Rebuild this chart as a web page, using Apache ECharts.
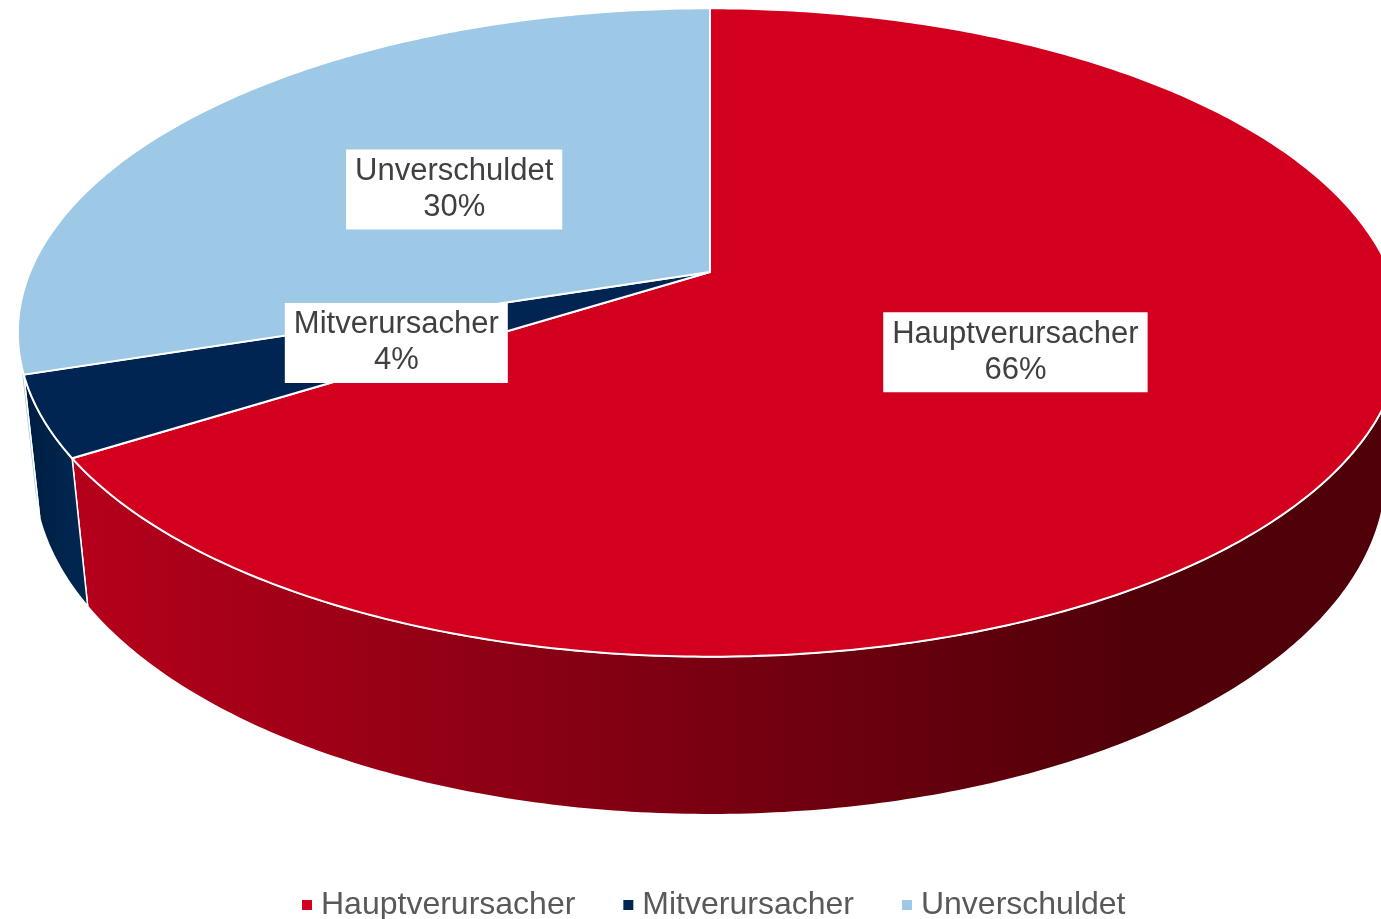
<!DOCTYPE html>
<html>
<head>
<meta charset="utf-8">
<script src="https://cdn.jsdelivr.net/npm/echarts@6/dist/echarts.min.js"></script>
<style>
html, body { margin: 0; padding: 0; background: #fff; }
#main { width: 1381px; height: 919px; }
</style>
</head>
<body>
<div id="main"></div>
<script>
var categories = ['Hauptverursacher', 'Mitverursacher', 'Unverschuldet'];
var shares = [66, 4, 30];
var topColors = ['#d2001e', '#002553', '#9dc9e6'];
var wallColors = [['#b4001b', '#4f0009'], ['#00264f', '#001d42'], ['#8dbfdd', '#7fb0cf']];

// camera for the tilted disk (radius 1)
var cx = 710, cy = 272, focal = 3236, dist = 4.759, tilt = 27.4 * Math.PI / 180, thick = 0.2332;

var total = 0;
for (var i = 0; i < shares.length; i++) total += shares[i];

function project(theta, r, down) {
  var x = r * Math.sin(theta), z = r * Math.cos(theta);
  var up = z * Math.sin(tilt) - down * Math.cos(tilt);
  var d = dist + z * Math.cos(tilt) + down * Math.sin(tilt);
  return [cx + focal * x / d, cy - focal * up / d];
}

// walls facing the viewer
var phi = Math.acos(1 / (dist * Math.cos(tilt)));
var frontLo = Math.PI - phi, frontHi = Math.PI + phi;

function renderSlice(params, api) {
  var idx = params.seriesIndex;
  var before = 0;
  for (var k = 0; k < idx; k++) before += shares[k];
  var v = api.value(0);
  var t1 = before / total * Math.PI * 2;
  var t2 = (before + v) / total * Math.PI * 2;
  var children = [];

  var a1 = Math.max(t1, frontLo), a2 = Math.min(t2, frontHi);
  if (a2 > a1) {
    var wall = [];
    var n = Math.max(2, Math.ceil((a2 - a1) * 90));
    for (var j = 0; j <= n; j++) wall.push(project(a1 + (a2 - a1) * j / n, 1, 0));
    for (var j = n; j >= 0; j--) wall.push(project(a1 + (a2 - a1) * j / n, 1, thick));
    var gx0 = idx === 0 ? 90 : wall[0][0];
    var gx1 = idx === 0 ? 1150 : wall[n][0] + 1;
    children.push({
      type: 'polygon', z2: 1,
      shape: { points: wall },
      style: {
        fill: new echarts.graphic.LinearGradient(gx0, 0, gx1, 0, [
          { offset: 0, color: wallColors[idx][0] },
          { offset: 1, color: wallColors[idx][1] }
        ], true),
        stroke: '#ffffff', lineWidth: 1.5
      }
    });
  }

  var top = [project(0, 0, 0)];
  var m = Math.max(2, Math.ceil((t2 - t1) * 90));
  for (var j = 0; j <= m; j++) top.push(project(t1 + (t2 - t1) * j / m, 1, 0));
  children.push({
    type: 'polygon', z2: 5,
    shape: { points: top },
    style: { fill: topColors[idx], stroke: '#ffffff', lineWidth: 2 }
  });

  var lp = project((t1 + t2) / 2, 0.49, 0);
  children.push({
    type: 'text', z2: 10,
    style: {
      text: categories[idx] + '\n' + v + '%',
      x: lp[0], y: lp[1] + 3,
      align: 'center', verticalAlign: 'middle',
      font: '31px "Liberation Sans", Arial, sans-serif',
      lineHeight: 36,
      fill: '#404040',
      backgroundColor: '#ffffff',
      padding: [4, 9, 4, 9]
    }
  });

  return { type: 'group', children: children };
}

var series = [];
for (var i = 0; i < categories.length; i++) {
  series.push({
    name: categories[i],
    type: 'custom',
    coordinateSystem: 'none',
    renderItem: renderSlice,
    itemStyle: { color: topColors[i] },
    silent: true,
    data: [[shares[i]]]
  });
}

var chart = echarts.init(document.getElementById('main'));
chart.setOption({
  animation: false,
  backgroundColor: '#ffffff',
  legend: {
    left: 297,
    top: 884,
    icon: 'rect',
    itemWidth: 10,
    itemHeight: 10,
    itemGap: 48,
    selectedMode: false,
    textStyle: {
      fontSize: 32,
      fontFamily: '"Liberation Sans", Arial, sans-serif',
      color: '#595959',
      padding: [0, 0, 0, 4]
    },
    data: categories
  },
  series: series
});
</script>
</body>
</html>
